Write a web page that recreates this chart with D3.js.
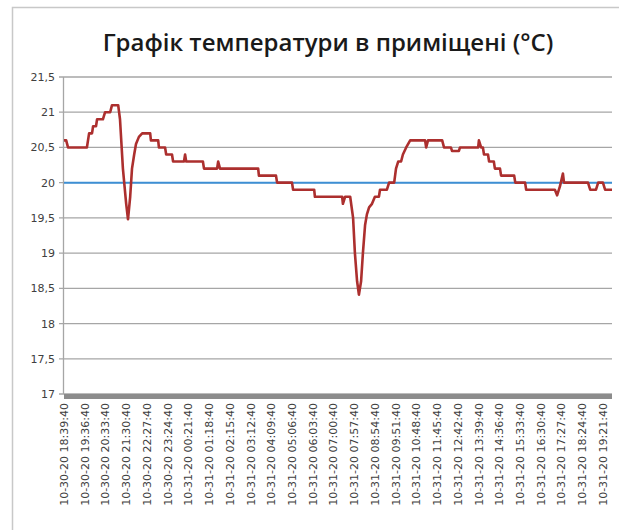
<!DOCTYPE html>
<html lang="uk">
<head>
    <meta charset="UTF-8">
    <title>Графік температури</title>
    <style>
        body {
            margin: 0;
            background: white;
        }

        .grid line {
            stroke: #a6a6a6;
            stroke-width: 1.3px;
        }

        .y-label {
            font-family: "DejaVu Sans", sans-serif;
            font-size: 11px;
            fill: #404040;
        }

        .x-label {
            font-family: "DejaVu Sans", sans-serif;
            font-size: 11px;
            fill: #404040;
        }

        .title {
            font-family: "Open Sans", sans-serif;
            font-size: 24px;
            font-weight: 600;
            fill: #1a1a1a;
        }
    </style>
    <script src="https://d3js.org/d3.v7.min.js"></script>
</head>
<body>
    <div id="chart"></div>

    <script>
        // minutes since 10-30-20 18:39:40
        const mins = [
            0, 6, 11, 63, 69, 77, 80, 88, 91, 107, 113, 127, 132, 149,
            154, 162, 171, 176, 182, 187, 193, 198, 206, 215,
            237, 239, 259, 261, 278, 281, 297, 300, 330, 333, 336,
            382, 385, 421, 424, 429, 534, 536, 583, 586, 627, 630,
            688, 690, 765, 767, 773, 787,
            795, 800, 806, 811, 817, 822, 828, 833, 839, 847, 855,
            866, 869, 888, 894, 908, 913, 919, 927, 932, 941, 952,
            993, 996, 1001, 1007, 1040, 1045, 1048, 1064, 1067, 1086, 1089,
            1139, 1141, 1147, 1152, 1155, 1166, 1169, 1182, 1185, 1199, 1202, 1238,
            1241, 1268, 1271,
            1350, 1356, 1364, 1372, 1375, 1441, 1447, 1463, 1469, 1482, 1488, 1507
        ];
        const temps = [
            20.6, 20.6, 20.5, 20.5, 20.7, 20.7, 20.8, 20.8, 20.9, 20.9, 21.0, 21.0, 21.1, 21.1,
            20.9, 20.2, 19.7, 19.48, 19.8, 20.2, 20.4, 20.55, 20.65, 20.7,
            20.7, 20.6, 20.6, 20.5, 20.5, 20.4, 20.4, 20.3, 20.3, 20.4, 20.3,
            20.3, 20.2, 20.2, 20.3, 20.2, 20.2, 20.1, 20.1, 20.0, 20.0, 19.9,
            19.9, 19.8, 19.8, 19.7, 19.8, 19.8,
            19.5, 19.0, 18.6, 18.41, 18.6, 19.0, 19.4, 19.55, 19.65, 19.7, 19.8,
            19.8, 19.9, 19.9, 20.0, 20.0, 20.2, 20.3, 20.3, 20.4, 20.5, 20.6,
            20.6, 20.5, 20.6, 20.6, 20.6, 20.5, 20.5, 20.5, 20.45, 20.45, 20.5,
            20.5, 20.6, 20.5, 20.5, 20.4, 20.4, 20.3, 20.3, 20.2, 20.2, 20.1, 20.1,
            20.0, 20.0, 19.9,
            19.9, 19.82, 19.95, 20.13, 20.0, 20.0, 19.9, 19.9, 20.0, 20.0, 19.9, 19.9
        ];
        const yTicks = [17, 17.5, 18, 18.5, 19, 19.5, 20, 20.5, 21, 21.5];
        const tickLabels = [
            "10-30-20 18:39:40", "10-30-20 19:36:40", "10-30-20 20:33:40",
            "10-30-20 21:30:40", "10-30-20 22:27:40", "10-30-20 23:24:40",
            "10-31-20 00:21:40", "10-31-20 01:18:40", "10-31-20 02:15:40",
            "10-31-20 03:12:40", "10-31-20 04:09:40", "10-31-20 05:06:40",
            "10-31-20 06:03:40", "10-31-20 07:00:40", "10-31-20 07:57:40",
            "10-31-20 08:54:40", "10-31-20 09:51:40", "10-31-20 10:48:40",
            "10-31-20 11:45:40", "10-31-20 12:42:40", "10-31-20 13:39:40",
            "10-31-20 14:36:40", "10-31-20 15:33:40", "10-31-20 16:30:40",
            "10-31-20 17:27:40", "10-31-20 18:24:40", "10-31-20 19:21:40"
        ];
        const labelStep = 57;
        const target = 20;

        const width = 619;
        const height = 530;
        const margin = {top: 77, right: 7, bottom: 136, left: 64};

        const svg = d3.select('#chart')
            .append('svg')
            .attr('width', width)
            .attr('height', height);

        // chart frame
        svg.append('rect')
            .attr('x', 12.5)
            .attr('y', 7.5)
            .attr('width', 620)
            .attr('height', 540)
            .attr('fill', 'white')
            .attr('stroke', '#c8c8c8')
            .attr('stroke-width', 1.5);

        svg.append('text')
            .attr('class', 'title')
            .attr('x', 328)
            .attr('y', 51)
            .attr('text-anchor', 'middle')
            .text('Графік температури в приміщені (°C)');

        const x = d3.scaleLinear()
            .domain([0, 1507])
            .range([margin.left, width - margin.right]);

        const y = d3.scaleLinear()
            .domain([17, 21.5])
            .range([height - margin.bottom, margin.top]);

        // horizontal gridlines
        svg.append('g')
            .attr('class', 'grid')
            .selectAll('line')
            .data(yTicks.filter(d => d > 17))
            .join('line')
            .attr('x1', margin.left - 5)
            .attr('x2', width - margin.right)
            .attr('y1', d => y(d))
            .attr('y2', d => y(d));

        // y axis line
        svg.append('line')
            .attr('x1', margin.left - 0.5)
            .attr('x2', margin.left - 0.5)
            .attr('y1', y(21.5))
            .attr('y2', y(17))
            .attr('stroke', '#a6a6a6')
            .attr('stroke-width', 1.3);

        const fmt = d => String(d).replace('.', ',');
        svg.append('g')
            .selectAll('text')
            .data(yTicks)
            .join('text')
            .attr('class', 'y-label')
            .attr('x', margin.left - 9)
            .attr('y', d => y(d) + 4)
            .attr('text-anchor', 'end')
            .text(fmt);

        // x axis: dense category ticks look like a solid bar
        svg.append('line')
            .attr('x1', margin.left - 5)
            .attr('x2', width - margin.right)
            .attr('y1', y(17))
            .attr('y2', y(17))
            .attr('stroke', '#a6a6a6')
            .attr('stroke-width', 1.5);
        svg.append('rect')
            .attr('x', margin.left)
            .attr('y', y(17))
            .attr('width', width - margin.right - margin.left)
            .attr('height', 5)
            .attr('fill', '#8c8c8c');

        svg.append('g')
            .selectAll('text')
            .data(tickLabels)
            .join('text')
            .attr('class', 'x-label')
            .attr('transform', (d, i) => `translate(${x(i * labelStep) + 4},${y(17) + 9}) rotate(-90)`)
            .attr('text-anchor', 'end')
            .text(d => d);

        // target line
        svg.append('line')
            .attr('x1', x(0))
            .attr('x2', x(1507))
            .attr('y1', y(target))
            .attr('y2', y(target))
            .attr('stroke', '#3d8fd4')
            .attr('stroke-width', 2);

        const data = mins.map((m, i) => ({m, t: temps[i]}));
        const line = d3.line()
            .x(d => x(d.m))
            .y(d => y(d.t));

        svg.append('path')
            .datum(data)
            .attr('d', line)
            .attr('fill', 'none')
            .attr('stroke', '#ac2f2e')
            .attr('stroke-width', 2.6)
            .attr('stroke-linejoin', 'round');
    </script>
</body>
</html>
